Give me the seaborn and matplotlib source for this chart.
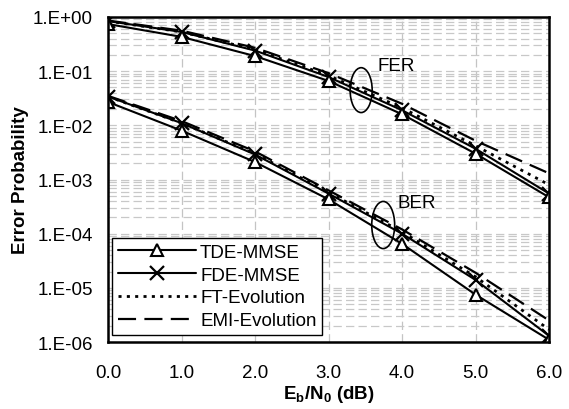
import numpy as np
import pandas as pd
import matplotlib
matplotlib.use("Agg")
import matplotlib.pyplot as plt
from matplotlib.patches import Ellipse
from matplotlib.ticker import FixedLocator, FuncFormatter, LogLocator, NullFormatter
import seaborn as sns

# data
ebn0 = [0, 1, 2, 3, 4, 5, 6]
fer_tde = [0.74, 0.43, 0.19, 0.066, 0.016, 0.0030, 0.00047]
fer_fde = [0.84, 0.53, 0.24, 0.078, 0.019, 0.0037, 0.00055]
fer_ft = [0.84, 0.53, 0.25, 0.083, 0.021, 0.0042, 0.00080]
fer_emi = [0.86, 0.56, 0.27, 0.092, 0.025, 0.0052, 0.0013]
ber_tde = [0.027, 0.0080, 0.0021, 0.00043, 0.000065, 7.5e-6, 1.1e-6]
ber_fde = [0.034, 0.011, 0.0029, 0.00055, 0.000100, 1.4e-5, 1.3e-6]
ber_ft = [0.034, 0.011, 0.0030, 0.00058, 0.000108, 1.6e-5, 1.7e-6]
ber_emi = [0.035, 0.012, 0.0033, 0.00063, 0.000120, 1.9e-5, 2.5e-6]
x_ticklabels = ["0.0", "1.0", "2.0", "3.0", "4.0", "5.0", "6.0"]

sns.set_style("white")
plt.rcParams['font.family'] = ['Liberation Sans', 'DejaVu Sans']
plt.rcParams['mathtext.fontset'] = 'custom'
plt.rcParams['mathtext.rm'] = 'Liberation Sans'
plt.rcParams['mathtext.bf'] = 'Liberation Sans:bold'
plt.rcParams['lines.scale_dashes'] = False
plt.rcParams['text.color'] = 'black'
plt.rcParams['axes.labelcolor'] = 'black'

fs = 13.5
fig = plt.figure(figsize=(5.69, 4.10), dpi=100)
ax = fig.add_axes([0.1898, 0.1634, 0.7751, 0.7927])

styles = {
    "TDE-MMSE": dict(ls="-", lw=1.5, marker="^", ms=9, mfc="white", mec="black", mew=1.5),
    "FDE-MMSE": dict(ls="-", lw=1.5, marker="x", ms=10, mec="black", mew=1.6),
    "FT-Evolution": dict(ls=(0, (2.2, 3.8)), lw=2.0),
    "EMI-Evolution": dict(ls=(0, (13, 6)), lw=1.6),
}
series = [
    ("EMI-Evolution", fer_emi, ber_emi),
    ("FT-Evolution", fer_ft, ber_ft),
    ("FDE-MMSE", fer_fde, ber_fde),
    ("TDE-MMSE", fer_tde, ber_tde),
]
handles = {}
for name, fer, ber in series:
    for vals in (fer, ber):
        df = pd.DataFrame({"x": ebn0, "y": vals})
        sns.lineplot(data=df, x="x", y="y", ax=ax, color="black", **styles[name])
    handles[name] = ax.lines[-1]

ax.set_yscale("log")
ax.set_xlim(0, 6)
ax.set_ylim(1e-6, 1)

ax.xaxis.set_major_locator(FixedLocator(ebn0))
ax.set_xticklabels(x_ticklabels)
ax.yaxis.set_major_locator(LogLocator(base=10, numticks=10))
ax.yaxis.set_minor_locator(LogLocator(base=10, subs=np.arange(2, 10), numticks=20))
ax.yaxis.set_minor_formatter(NullFormatter())
ax.yaxis.set_major_formatter(FuncFormatter(lambda v, p: "1.E%+03d" % round(np.log10(v))))

ax.grid(which="major", axis="x", color="#c4c4c4", ls=(0, (6, 3)), lw=0.9)
ax.grid(which="both", axis="y", color="#c8c8c8", ls=(0, (6, 3)), lw=0.9)
ax.set_axisbelow(True)

ax.tick_params(axis="both", which="major", direction="in", length=5, width=1.2,
               labelsize=fs, colors="black")
ax.tick_params(axis="x", pad=16)
ax.tick_params(axis="y", pad=11)
ax.tick_params(axis="y", which="minor", length=0)
for s in ax.spines.values():
    s.set_visible(True)
    s.set_color("black")
    s.set_linewidth(1.8)

ax.set_xlabel(r"$\mathbf{E_b/N_0}$ (dB)", fontsize=fs, fontweight="bold", labelpad=1)
ax.set_ylabel("Error Probability", fontsize=fs, fontweight="bold", labelpad=3)

# group annotations
ax.add_patch(Ellipse((0.574, 0.775), 0.050, 0.138, transform=ax.transAxes,
                     fill=False, ec="black", lw=1.2))
ax.add_patch(Ellipse((0.624, 0.360), 0.052, 0.145, transform=ax.transAxes,
                     fill=False, ec="black", lw=1.2))
ax.text(0.653, 0.852, "FER", transform=ax.transAxes, fontsize=fs, ha="center", va="center")
ax.text(0.700, 0.430, "BER", transform=ax.transAxes, fontsize=fs, ha="center", va="center")

order = ["TDE-MMSE", "FDE-MMSE", "FT-Evolution", "EMI-Evolution"]
leg = ax.legend([handles[n] for n in order], order, loc="lower left",
                bbox_to_anchor=(0.009, 0.022), borderaxespad=0, fontsize=fs,
                handlelength=4.2, handletextpad=0.2, labelspacing=0.3,
                borderpad=0.3, fancybox=False, framealpha=1, edgecolor="black")
leg.get_frame().set_linewidth(1.0)

fig.savefig("out.png", dpi=100)
